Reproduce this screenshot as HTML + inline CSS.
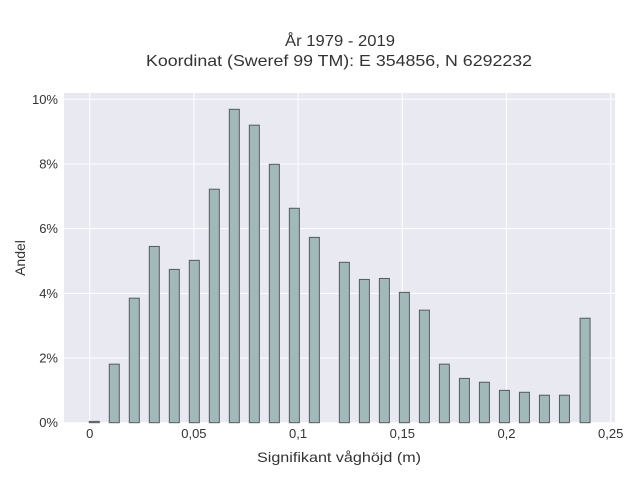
<!DOCTYPE html>
<html><head><meta charset="utf-8"><style>
body{margin:0;background:#fff;}
svg{display:block;font-family:"Liberation Sans",sans-serif;}
</style></head><body>
<svg id="chart" width="640" height="480" viewBox="0 0 640 480" xmlns="http://www.w3.org/2000/svg">
<rect x="64" y="93" width="551" height="330" fill="#e9e9f1"/>
<g id="grid"></g>
<g id="bars"></g>
<g id="ticks"></g>
<text x="340" y="46" text-anchor="middle" font-size="16" fill="#333" textLength="110" lengthAdjust="spacingAndGlyphs">År 1979 - 2019</text>
<text x="339" y="66" text-anchor="middle" font-size="16" fill="#333" textLength="386" lengthAdjust="spacingAndGlyphs">Koordinat (Sweref 99 TM): E 354856, N 6292232</text>
<text x="339" y="462" text-anchor="middle" font-size="14" fill="#333" textLength="164" lengthAdjust="spacingAndGlyphs">Signifikant våghöjd (m)</text>
<text x="0" y="0" transform="translate(25,258) rotate(-90)" text-anchor="middle" font-size="14" fill="#333">Andel</text>
</svg>
<script>
const binX=[0.0022,0.0118,0.0214,0.0310,0.0406,0.0502,0.0598,0.0694,0.0790,0.0886,0.0982,0.1078,0.1222,0.1318,0.1414,0.1510,0.1606,0.1702,0.1798,0.1894,0.1990,0.2086,0.2182,0.2278,0.2377];
const shares=[0.04,1.81,3.85,5.45,4.74,5.02,7.22,9.69,9.20,7.99,6.63,5.73,4.96,4.43,4.46,4.03,3.48,1.81,1.37,1.25,1.00,0.94,0.85,0.85,3.23];
const xTicks=[0,0.05,0.1,0.15,0.2,0.25];
const xTickLabels=["0","0,05","0,1","0,15","0,2","0,25"];
const yTicks=[0,2,4,6,8,10];
const yTickLabels=["0%","2%","4%","6%","8%","10%"];
const barW=0.0048;
function X(v){return 89.7+v*2084;}
function Y(v){return 422.7-v*32.34;}
const NS="http://www.w3.org/2000/svg";
function mk(t,a,p){const e=document.createElementNS(NS,t);for(const k in a)e.setAttribute(k,a[k]);p.appendChild(e);return e;}
const grid=document.getElementById('grid'),bars=document.getElementById('bars'),ticks=document.getElementById('ticks');
yTicks.forEach((v,i)=>{
 const l=mk('line',{x1:64,x2:615,y1:Y(v),y2:Y(v),stroke:'#fff','stroke-width':1},grid);
 
 
 const t=mk('text',{x:58,y:Y(v)+4.5,'text-anchor':'end','font-size':13,fill:'#333'},ticks);
 t.textContent=yTickLabels[i];
 
 
});
xTicks.forEach((v,i)=>{
 const l=mk('line',{x1:X(v),x2:X(v),y1:93,y2:423,stroke:'#fff','stroke-width':1},grid);
 
 
 const t=mk('text',{x:X(v),y:438,'text-anchor':'middle','font-size':13,fill:'#333'},ticks);
 t.textContent=xTickLabels[i];
 
 
});
binX.forEach((v,i)=>{
 const x0=X(v-barW/2),x1=X(v+barW/2);
 const r=mk('rect',{x:x0,y:Y(shares[i]),width:x1-x0,height:Y(0)-Y(shares[i]),fill:'#a2b9ba',stroke:'#555b5c','stroke-width':1},bars);
 
 
});
</script>
</body></html>
